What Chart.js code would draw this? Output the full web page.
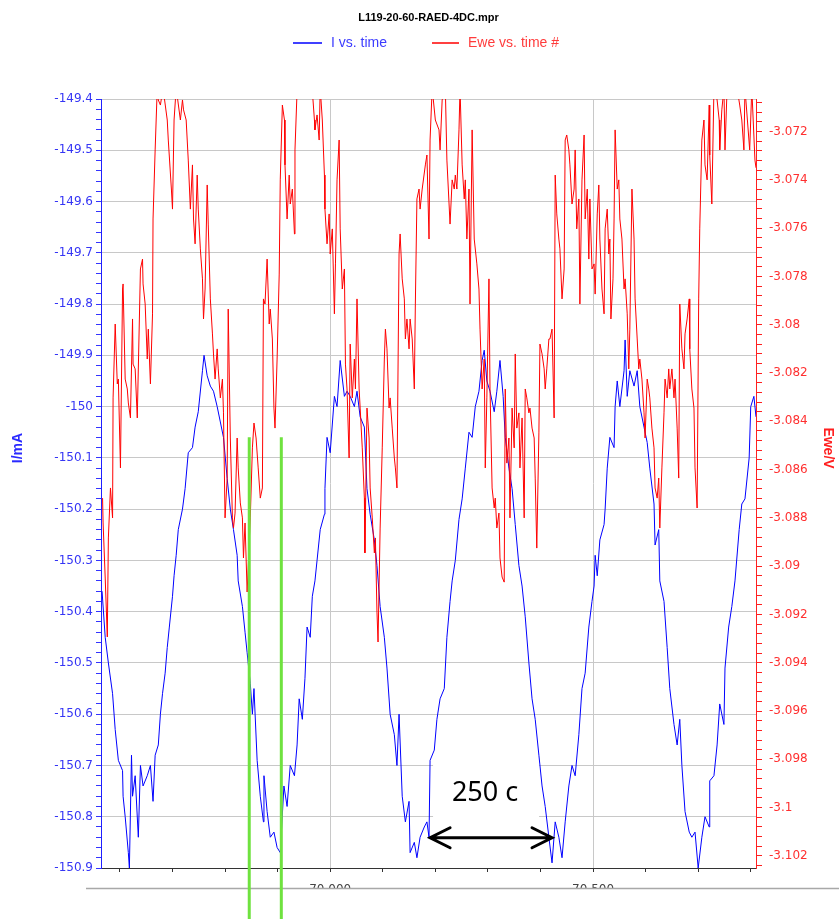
<!DOCTYPE html>
<html>
<head>
<meta charset="utf-8">
<script src="https://cdn.jsdelivr.net/npm/chart.js@4"></script>
<style>
  html, body { margin: 0; padding: 0; background: #fff; }
</style>
</head>
<body>
<canvas id="chart" width="839" height="919"></canvas>
<script>
const chartTitle = 'L119-20-60-RAED-4DC.mpr';
const seriesNames = ['I vs. time', 'Ewe vs. time #'];
const axisTitles = ['I/mA', 'Ewe/V'];

// I vs. time
const timeI = [69566, 69572, 69578, 69586, 69591, 69597, 69605, 69606, 69610, 69616,
  69618, 69622, 69624, 69629, 69635, 69639, 69644, 69652, 69658, 69663,
  69667, 69673, 69677, 69681, 69686, 69690, 69694, 69700, 69703, 69707,
  69711, 69719, 69724, 69730, 69738, 69743, 69749, 69757, 69760, 69766,
  69772, 69778, 69785, 69791, 69797, 69804, 69810, 69816, 69823, 69825,
  69833, 69838, 69842, 69848, 69852, 69855, 69861, 69867, 69873, 69874,
  69880, 69886, 69893, 69899, 69905, 69912, 69918, 69924, 69932, 69937,
  69941, 69947, 69952, 69956, 69962, 69966, 69971, 69975, 69981, 69989,
  69990, 69994, 70000, 70008, 70013, 70019, 70027, 70032, 70038, 70046,
  70051, 70057, 70065, 70070, 70076, 70084, 70089, 70095, 70103, 70108,
  70114, 70122, 70127, 70131, 70137, 70143, 70150, 70152, 70160, 70165,
  70171, 70179, 70184, 70188, 70190, 70198, 70203, 70209, 70217, 70222,
  70228, 70232, 70238, 70245, 70251, 70257, 70264, 70270, 70276, 70283,
  70289, 70293, 70298, 70304, 70312, 70317, 70323, 70329, 70333, 70340,
  70346, 70352, 70359, 70365, 70371, 70378, 70384, 70390, 70397, 70403,
  70409, 70416, 70422, 70428, 70435, 70441, 70447, 70454, 70460, 70466,
  70473, 70479, 70485, 70492, 70498, 70502, 70504, 70508, 70513, 70521,
  70523, 70527, 70532, 70540, 70542, 70546, 70551, 70559, 70561, 70565,
  70570, 70578, 70584, 70589, 70597, 70603, 70608, 70616, 70618, 70625,
  70627, 70635, 70641, 70646, 70654, 70660, 70665, 70669, 70675, 70683,
  70688, 70694, 70700, 70707, 70713, 70721, 70722, 70730, 70736, 70741,
  70749, 70751, 70758, 70764, 70770, 70778, 70783, 70789, 70797, 70800,
  70806, 70810];
const currentI = [-150.36, -150.45, -150.50, -150.56, -150.63, -150.69, -150.71, -150.76, -150.80, -150.87,
  -150.90, -150.68, -150.76, -150.72, -150.84, -150.70, -150.74, -150.72, -150.70, -150.77,
  -150.68, -150.66, -150.60, -150.56, -150.52, -150.47, -150.43, -150.37, -150.33, -150.29,
  -150.24, -150.20, -150.16, -150.09, -150.08, -150.04, -150.01, -149.93, -149.90, -149.94,
  -149.96, -149.97, -150.00, -150.03, -150.06, -150.14, -150.20, -150.24, -150.29, -150.34,
  -150.39, -150.44, -150.48, -150.54, -150.60, -150.55, -150.69, -150.76, -150.81, -150.72,
  -150.79, -150.84, -150.83, -150.86, -150.87, -150.74, -150.78, -150.70, -150.72, -150.66,
  -150.57, -150.61, -150.53, -150.43, -150.45, -150.37, -150.34, -150.30, -150.24, -150.21,
  -150.16, -150.06, -150.09, -149.98, -150.00, -149.91, -149.98, -149.97, -149.98, -150.00,
  -149.97, -150.02, -150.04, -150.16, -150.21, -150.26, -150.31, -150.39, -150.45, -150.51,
  -150.60, -150.64, -150.70, -150.60, -150.76, -150.81, -150.77, -150.87, -150.85, -150.88,
  -150.84, -150.82, -150.81, -150.84, -150.69, -150.67, -150.61, -150.57, -150.55, -150.45,
  -150.38, -150.34, -150.30, -150.22, -150.18, -150.12, -150.05, -150.06, -150.00, -149.97,
  -149.91, -149.89, -149.95, -149.97, -150.01, -149.97, -149.91, -149.98, -150.06, -150.12,
  -150.16, -150.23, -150.31, -150.35, -150.41, -150.50, -150.57, -150.61, -150.68, -150.74,
  -150.78, -150.84, -150.89, -150.81, -150.84, -150.88, -150.81, -150.74, -150.70, -150.72,
  -150.64, -150.55, -150.52, -150.43, -150.38, -150.35, -150.29, -150.33, -150.26, -150.23,
  -150.20, -150.12, -150.06, -150.08, -150.00, -149.95, -150.00, -149.93, -149.87, -149.98,
  -149.93, -149.96, -149.93, -150.00, -150.04, -150.07, -150.12, -150.19, -150.27, -150.24,
  -150.34, -150.38, -150.47, -150.55, -150.62, -150.66, -150.61, -150.70, -150.79, -150.83,
  -150.84, -150.83, -150.90, -150.84, -150.80, -150.82, -150.73, -150.72, -150.66, -150.58,
  -150.62, -150.51, -150.43, -150.39, -150.34, -150.24, -150.19, -150.18, -150.10, -150.00,
  -149.98, -150.02];

// Ewe vs. time
const timeE = [69567, 69568, 69572, 69576, 69578, 69582, 69586, 69587, 69591, 69595,
  69597, 69601, 69605, 69606, 69610, 69614, 69616, 69620, 69624, 69625,
  69629, 69633, 69639, 69643, 69644, 69648, 69652, 69654, 69658, 69662,
  69663, 69667, 69671, 69673, 69677, 69682, 69690, 69692, 69698, 69700,
  69703, 69707, 69715, 69719, 69721, 69726, 69730, 69734, 69738, 69740,
  69743, 69747, 69749, 69753, 69757, 69759, 69762, 69766, 69768, 69772,
  69776, 69778, 69781, 69785, 69787, 69791, 69795, 69797, 69800, 69804,
  69806, 69810, 69814, 69816, 69819, 69823, 69825, 69829, 69833, 69835,
  69838, 69842, 69848, 69852, 69855, 69859, 69863, 69867, 69871, 69873,
  69876, 69880, 69884, 69886, 69890, 69893, 69895, 69899, 69903, 69905,
  69909, 69913, 69914, 69918, 69922, 69924, 69928, 69932, 69933, 69937,
  69941, 69952, 69966, 69970, 69971, 69975, 69979, 69981, 69985, 69989,
  69990, 69994, 69998, 70000, 70004, 70008, 70010, 70013, 70017, 70019,
  70023, 70027, 70029, 70032, 70036, 70038, 70042, 70046, 70048, 70051,
  70055, 70057, 70061, 70065, 70066, 70070, 70074, 70076, 70080, 70084,
  70086, 70089, 70091, 70095, 70099, 70103, 70105, 70108, 70112, 70114,
  70118, 70122, 70124, 70127, 70131, 70133, 70137, 70141, 70143, 70146,
  70150, 70152, 70156, 70160, 70162, 70165, 70169, 70171, 70175, 70181,
  70184, 70188, 70190, 70194, 70200, 70207, 70209, 70213, 70219, 70222,
  70228, 70232, 70236, 70238, 70241, 70245, 70247, 70251, 70255, 70257,
  70260, 70264, 70266, 70270, 70274, 70279, 70283, 70285, 70289, 70293,
  70295, 70298, 70302, 70304, 70308, 70312, 70314, 70317, 70321, 70323,
  70327, 70331, 70333, 70336, 70340, 70342, 70346, 70350, 70352, 70355,
  70359, 70361, 70365, 70369, 70371, 70374, 70378, 70380, 70384, 70388,
  70390, 70393, 70397, 70399, 70403, 70407, 70409, 70412, 70416, 70418,
  70422, 70426, 70428, 70431, 70435, 70437, 70441, 70445, 70447, 70450,
  70454, 70456, 70460, 70464, 70466, 70469, 70473, 70475, 70479, 70483,
  70485, 70489, 70492, 70494, 70498, 70502, 70504, 70508, 70511, 70513,
  70517, 70521, 70523, 70527, 70530, 70532, 70534, 70538, 70540, 70542,
  70546, 70549, 70551, 70555, 70559, 70561, 70565, 70568, 70570, 70574,
  70578, 70580, 70584, 70587, 70589, 70593, 70597, 70599, 70603, 70606,
  70608, 70612, 70616, 70618, 70622, 70625, 70627, 70631, 70635, 70637,
  70641, 70644, 70646, 70650, 70654, 70656, 70660, 70663, 70665, 70669,
  70673, 70675, 70679, 70683, 70684, 70688, 70692, 70694, 70698, 70701,
  70703, 70707, 70711, 70713, 70717, 70721, 70722, 70726, 70730, 70736,
  70740, 70741, 70745, 70749, 70751, 70755, 70774, 70779, 70783, 70787,
  70789, 70798, 70802, 70808, 70810];
const potentialE = [-3.08718, -3.08821, -3.09049, -3.09293, -3.08883, -3.08676, -3.08800, -3.08303, -3.07997, -3.08245,
  -3.08225, -3.08593, -3.07852, -3.07831, -3.08225, -3.08266, -3.08324, -3.08386, -3.07976, -3.08163,
  -3.08183, -3.08386, -3.07769, -3.07728, -3.07831, -3.07914, -3.08142, -3.08018, -3.08245, -3.07955,
  -3.07562, -3.07276, -3.07020, -3.07069, -3.07090, -3.07020, -3.07152, -3.07235, -3.07442, -3.07521,
  -3.07152, -3.07020, -3.07152, -3.07069, -3.07110, -3.07152, -3.07318, -3.07521, -3.07338, -3.07562,
  -3.07665, -3.07380, -3.07521, -3.07686, -3.07810, -3.07976, -3.07852, -3.07421, -3.07583, -3.07893,
  -3.08038, -3.08121, -3.08225, -3.08100, -3.08183, -3.08303, -3.08225, -3.08365, -3.08800, -3.08635,
  -3.07935, -3.08469, -3.08800, -3.08842, -3.08780, -3.08469, -3.08593, -3.08738, -3.08800, -3.08966,
  -3.08821, -3.09107, -3.08800, -3.08510, -3.08407, -3.08469, -3.08593, -3.08718, -3.08676, -3.07893,
  -3.07914, -3.07728, -3.07997, -3.07935, -3.08059, -3.08345, -3.08428, -3.08142, -3.07790, -3.07400,
  -3.07090, -3.07152, -3.07338, -3.07562, -3.07380, -3.07500, -3.07438, -3.07624, -3.07276, -3.07030,
  -3.07020, -3.07020, -3.07030, -3.07152, -3.07193, -3.07131, -3.07235, -3.07020, -3.07152, -3.07380,
  -3.07521, -3.07665, -3.07541, -3.07707, -3.07603, -3.07955, -3.07748, -3.07400, -3.07235, -3.07603,
  -3.07852, -3.07769, -3.08163, -3.08266, -3.08552, -3.08080, -3.08303, -3.08142, -3.08266, -3.07893,
  -3.08266, -3.08345, -3.08510, -3.08718, -3.08945, -3.08345, -3.08469, -3.08676, -3.08800, -3.08945,
  -3.08883, -3.09190, -3.09314, -3.08842, -3.08510, -3.08142, -3.08018, -3.08100, -3.08345, -3.08303,
  -3.08428, -3.08552, -3.08593, -3.08676, -3.07707, -3.07624, -3.07810, -3.07893, -3.08059, -3.07976,
  -3.08100, -3.07976, -3.08059, -3.08266, -3.07914, -3.07479, -3.07438, -3.07521, -3.07438, -3.07338,
  -3.07297, -3.07645, -3.07235, -3.07020, -3.07152, -3.07193, -3.07276, -3.07069, -3.07020, -3.07318,
  -3.07583, -3.07400, -3.07438, -3.07380, -3.07438, -3.07193, -3.07020, -3.07338, -3.07479, -3.07400,
  -3.07645, -3.07438, -3.07914, -3.07193, -3.07645, -3.07748, -3.07852, -3.08018, -3.08266, -3.08142,
  -3.08593, -3.08303, -3.07810, -3.08266, -3.08676, -3.08759, -3.08718, -3.08842, -3.08780, -3.08966,
  -3.09045, -3.09066, -3.08266, -3.08573, -3.08469, -3.08800, -3.08345, -3.08510, -3.08121, -3.08428,
  -3.08365, -3.08593, -3.08386, -3.08800, -3.08266, -3.08303, -3.08365, -3.08345, -3.08428, -3.08469,
  -3.08635, -3.08925, -3.08448, -3.08080, -3.08121, -3.08183, -3.08266, -3.08183, -3.08059, -3.08059,
  -3.08018, -3.08386, -3.07380, -3.07541, -3.07645, -3.07686, -3.07893, -3.07769, -3.07235, -3.07214,
  -3.07276, -3.07338, -3.07500, -3.07438, -3.07276, -3.07603, -3.07479, -3.07914, -3.07400, -3.07214,
  -3.07562, -3.07438, -3.07728, -3.07479, -3.07769, -3.07748, -3.07873, -3.07541, -3.07421, -3.07645,
  -3.07852, -3.07955, -3.07603, -3.07521, -3.07707, -3.07645, -3.07976, -3.07810, -3.07562, -3.07193,
  -3.07438, -3.07400, -3.07562, -3.07645, -3.07852, -3.07810, -3.07955, -3.08183, -3.08018, -3.07438,
  -3.07645, -3.07893, -3.08059, -3.08183, -3.08142, -3.08225, -3.08365, -3.08469, -3.08225, -3.08266,
  -3.08303, -3.08428, -3.08510, -3.08676, -3.08718, -3.08635, -3.08842, -3.08593, -3.08365, -3.08225,
  -3.08303, -3.08183, -3.08266, -3.08183, -3.08303, -3.08225, -3.08428, -3.08635, -3.07914, -3.08100,
  -3.08183, -3.08038, -3.07976, -3.07893, -3.08100, -3.08266, -3.08345, -3.08593, -3.08759, -3.07893,
  -3.07603, -3.07235, -3.07152, -3.07338, -3.07400, -3.07090, -3.07297, -3.07500, -3.07020, -3.07069,
  -3.07152, -3.07276, -3.07110, -3.07020, -3.07276, -3.07020, -3.07020, -3.07090, -3.07152, -3.07276,
  -3.07020, -3.07276, -3.07020, -3.07318, -3.07350];

// axes
const timeRange = [69564, 70810];
const timeTicks = [69600, 69700, 69800, 69900, 70000, 70100, 70200, 70300, 70400, 70500, 70600, 70700, 70800];
const timeLabelTicks = [70000, 70500];
const iRange = [-150.9, -149.4];
const iTicks = [-150.9, -150.8, -150.7, -150.6, -150.5, -150.4, -150.3, -150.2, -150.1, -150.0,
  -149.9, -149.8, -149.7, -149.6, -149.5, -149.4];
const eRange = [-3.1025, -3.07065];
const eTicks = [-3.102, -3.100, -3.098, -3.096, -3.094, -3.092, -3.090, -3.088, -3.086, -3.084,
  -3.082, -3.080, -3.078, -3.076, -3.074, -3.072];

// annotations drawn on top of the screenshot
const markTimes = [69846, 69907];
const markTopI = -150.06;
const periodFrom = 70190, periodTo = 70422, periodI = -150.841;
const periodLabel = '250 c';

const ctx = document.getElementById('chart').getContext('2d');

function withMinor(majors, lo, hi) {
  // 4 minor ticks between labelled ones, like the EC-Lab axes
  const step = (majors[1] - majors[0]) / 5;
  const out = [];
  for (let v = majors[0]; v >= lo - 1e-9; v -= step) out.unshift(v);
  out.pop();
  majors.forEach((m, i) => {
    out.push(m);
    if (i < majors.length - 1) for (let k = 1; k < 5; k++) out.push(m + k * step);
  });
  for (let v = majors[majors.length - 1] + step; v <= hi + 1e-9; v += step) out.push(v);
  return out.filter(v => v >= lo - 1e-9 && v <= hi + 1e-9);
}
const isOn = (v, list, eps) => list.some(m => Math.abs(m - v) < eps);

const overlay = {
  id: 'overlay',
  afterDraw(chart) {
    const c = chart.ctx;
    const { x, yI } = chart.scales;
    const area = chart.chartArea;
    c.save();

    // title + legend
    const cx = (area.left + area.right) / 2;
    c.fillStyle = '#000';
    c.font = 'bold 11px "Liberation Sans"';
    c.textAlign = 'center';
    c.textBaseline = 'middle';
    c.fillText(chartTitle, cx, 18);

    c.font = '14px "Liberation Sans"';
    c.textAlign = 'left';
    c.lineWidth = 1.5;
    c.strokeStyle = '#0000ff';
    c.beginPath(); c.moveTo(293, 43); c.lineTo(322, 43); c.stroke();
    c.fillStyle = '#3c3cff';
    c.fillText(seriesNames[0], 331, 43);
    c.strokeStyle = '#ff0000';
    c.beginPath(); c.moveTo(432, 43); c.lineTo(459, 43); c.stroke();
    c.fillStyle = '#ff3c3c';
    c.fillText(seriesNames[1], 468, 43);

    // axis titles
    c.font = 'bold 14px "Liberation Sans"';
    c.textAlign = 'center';
    c.fillStyle = '#2a2aff';
    c.save(); c.translate(18, 448); c.rotate(-Math.PI / 2); c.fillText(axisTitles[0], 0, 0); c.restore();
    c.fillStyle = '#ff2020';
    c.save(); c.translate(828, 448); c.rotate(Math.PI / 2); c.fillText(axisTitles[1], 0, 0); c.restore();

    // screenshot cut under the tick labels
    c.fillStyle = '#fff';
    c.fillRect(0, 889, chart.width, chart.height - 889);
    c.strokeStyle = '#a8a8a8';
    c.lineWidth = 1.5;
    c.beginPath(); c.moveTo(86, 888.5); c.lineTo(chart.width, 888.5); c.stroke();

    // period annotation
    const px = x.getPixelForValue((periodFrom + periodTo) / 2);
    const py = yI.getPixelForValue(periodI);
    c.fillStyle = '#fff';
    c.fillRect(px - 58, py - 75, 106, 59);
    c.fillStyle = '#000';
    c.font = '27px "Noto Sans"';
    c.textAlign = 'center';
    c.fillText(periodLabel, px - 6, py - 44);
    const x1 = x.getPixelForValue(periodFrom), x2 = x.getPixelForValue(periodTo);
    c.strokeStyle = '#000';
    c.lineWidth = 3;
    c.lineCap = 'round';
    c.beginPath();
    c.moveTo(x1, py); c.lineTo(x2, py);
    c.moveTo(x1 + 20, py - 10); c.lineTo(x1, py); c.lineTo(x1 + 20, py + 10);
    c.moveTo(x2 - 20, py - 10); c.lineTo(x2, py); c.lineTo(x2 - 20, py + 10);
    c.stroke();

    // green markers
    c.strokeStyle = '#6fe23f';
    c.lineWidth = 3;
    c.lineCap = 'butt';
    markTimes.forEach(t => {
      const gx = x.getPixelForValue(t);
      c.beginPath();
      c.moveTo(gx, yI.getPixelForValue(markTopI));
      c.lineTo(gx, chart.height);
      c.stroke();
    });
    c.restore();
  }
};

const tickFont = { family: 'DejaVu Sans', size: 12 };

const chart = new Chart(ctx, {
  type: 'line',
  data: {
    datasets: [{
      label: seriesNames[0],
      data: timeI.map((t, i) => ({ x: t, y: currentI[i] })),
      borderColor: '#0000ff',
      borderWidth: 1,
      pointRadius: 0,
      yAxisID: 'yI',
      order: 1
    }, {
      label: seriesNames[1],
      data: timeE.map((t, i) => ({ x: t, y: potentialE[i] })),
      borderColor: '#ff0000',
      borderWidth: 1,
      pointRadius: 0,
      yAxisID: 'yE',
      order: 0
    }]
  },
  options: {
    responsive: false,
    animation: false,
    devicePixelRatio: 1,
    layout: { padding: { top: 99, left: 0, right: 0, bottom: 0 } },
    plugins: {
      legend: { display: false },
      title: { display: false },
      tooltip: { enabled: false }
    },
    scales: {
      x: {
        type: 'linear',
        min: timeRange[0],
        max: timeRange[1],
        afterBuildTicks: s => { s.ticks = timeTicks.map(v => ({ value: v })); },
        afterFit: s => { s.height = 51; },
        ticks: {
          autoSkip: false,
          maxRotation: 0,
          padding: 11,
          color: '#444',
          font: tickFont,
          callback: v => timeLabelTicks.includes(v)
            ? Math.floor(v / 1000) + ' ' + String(v % 1000).padStart(3, '0') : ''
        },
        grid: {
          color: c => (c.tick && timeLabelTicks.includes(c.tick.value)) ? '#c8c8c8' : 'rgba(0,0,0,0)',
          tickColor: '#333',
          tickLength: 4
        },
        border: { color: '#333' }
      },
      yI: {
        type: 'linear',
        position: 'left',
        min: iRange[0],
        max: iRange[1],
        afterBuildTicks: s => { s.ticks = withMinor(iTicks, iRange[0], iRange[1]).map(v => ({ value: v })); },
        afterFit: s => { s.width = 101; },
        ticks: {
          autoSkip: false,
          padding: 3,
          color: '#3535f5',
          font: tickFont,
          callback: v => isOn(v, iTicks, 1e-6) ? String(Math.round(v * 10) / 10) : ''
        },
        grid: {
          color: c => (c.tick && isOn(c.tick.value, iTicks, 1e-6)) ? '#c8c8c8' : 'rgba(0,0,0,0)',
          tickColor: '#3333ff',
          tickLength: 5
        },
        border: { color: '#2020ff' }
      },
      yE: {
        type: 'linear',
        position: 'right',
        min: eRange[0],
        max: eRange[1],
        afterBuildTicks: s => { s.ticks = withMinor(eTicks, eRange[0], eRange[1]).map(v => ({ value: v })); },
        afterFit: s => { s.width = 83; },
        ticks: {
          autoSkip: false,
          padding: 7,
          color: '#ff3030',
          font: tickFont,
          callback: v => isOn(v, eTicks, 1e-7) ? String(Math.round(v * 1000) / 1000) : ''
        },
        grid: {
          drawOnChartArea: false,
          tickColor: '#ff2020',
          tickLength: 6
        },
        border: { color: '#ff2020' }
      }
    }
  },
  plugins: [overlay]
});
</script>
</body>
</html>
